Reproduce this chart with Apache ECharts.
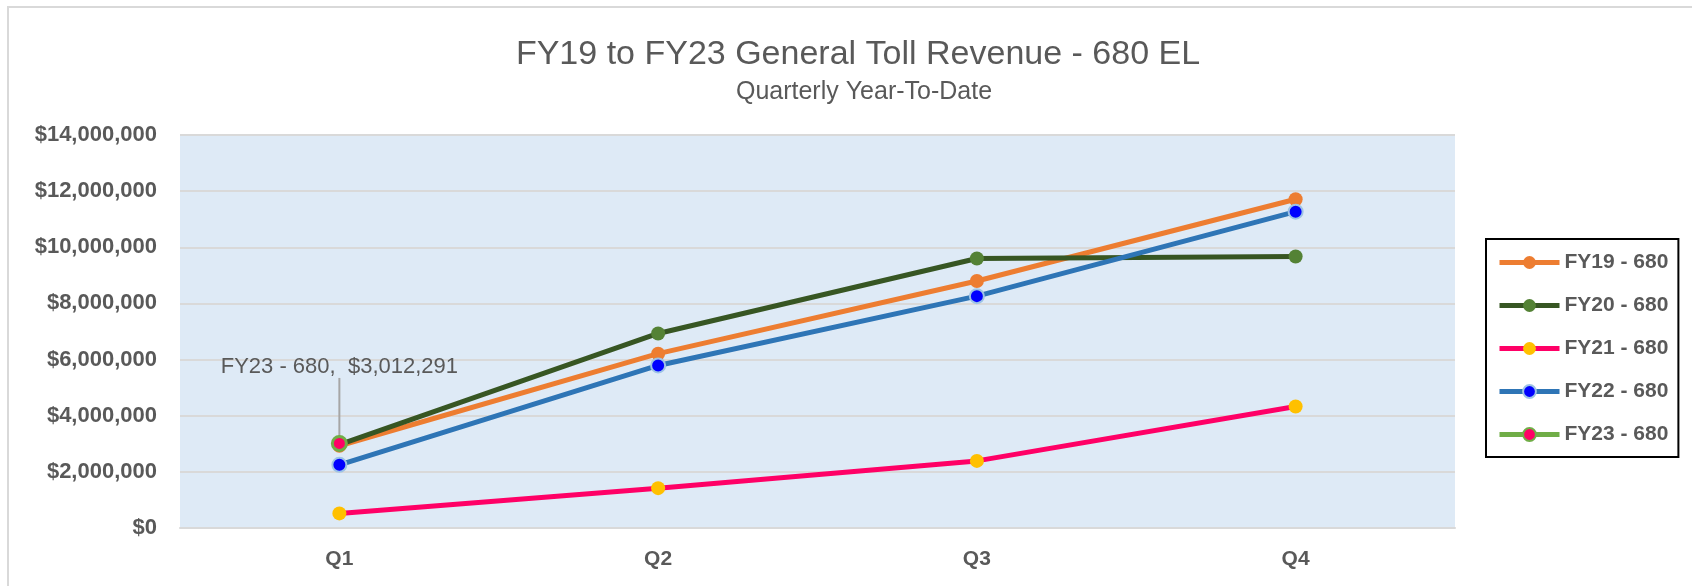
<!DOCTYPE html>
<html>
<head>
<meta charset="utf-8">
<script src="https://cdn.jsdelivr.net/npm/echarts@6/dist/echarts.min.js"></script>
<style>
  html, body { margin: 0; padding: 0; background: #fff; }
  #chart { width: 1692px; height: 586px; }
</style>
</head>
<body>
<div id="chart"></div>
<script>
// quarters and year-to-date revenue per fiscal year
const quarters = ['Q1', 'Q2', 'Q3', 'Q4'];
const fy19 = [2930000, 6210000, 8800000, 11710000];
const fy20 = [2970000, 6930000, 9600000, 9670000];
const fy21 = [520000, 1420000, 2390000, 4330000];
const fy22 = [2250000, 5790000, 8260000, 11270000];
const fy23 = [3012291, null, null, null];
const yTicks = { min: 0, max: 14000000, step: 2000000 };

const money = v => '$' + Math.round(v).toLocaleString('en-US');
const grey = '#595959';

const chart = echarts.init(document.getElementById('chart'));

function line(name, data, lineColor, dotColor, extra) {
    return Object.assign({
        name: name,
        type: 'line',
        data: data,
        symbol: 'circle',
        symbolSize: 14,
        lineStyle: { color: lineColor, width: 5 },
        itemStyle: { color: dotColor },
        color: lineColor,
        emphasis: { disabled: true }
    }, extra || {});
}

chart.setOption({
    animation: false,
    title: [
        {
            text: 'FY19 to FY23 General Toll Revenue - 680 EL',
            left: 853, top: 33, textAlign: 'center',
            textStyle: { color: grey, fontSize: 34, fontWeight: 'normal', fontFamily: 'Liberation Sans' }
        },
        {
            text: 'Quarterly Year-To-Date',
            left: 859, top: 75, textAlign: 'center',
            textStyle: { color: grey, fontSize: 25, fontWeight: 'normal', fontFamily: 'Liberation Sans' }
        }
    ],
    graphic: [{
        type: 'rect', silent: true,
        shape: { x: 8, y: 7, width: 1720, height: 620 },
        style: { fill: 'none', stroke: '#d9d9d9', lineWidth: 2 }
    }],
    legend: {
        left: 1486, top: 239,
        orient: 'vertical',
        padding: [13, 10, 12, 11],
        itemWidth: 60, itemHeight: 16, itemGap: 22,
        borderColor: '#000', borderWidth: 2,
        lineStyle: { width: 5 },
        textStyle: { color: grey, fontSize: 21, fontWeight: 'bold', fontFamily: 'Liberation Sans' },
        data: ['FY19 - 680', 'FY20 - 680', 'FY21 - 680', 'FY22 - 680', 'FY23 - 680']
    },
    grid: {
        left: 180, right: 237, top: 135, bottom: 58,
        show: true, backgroundColor: '#DEEAF6', borderWidth: 0
    },
    xAxis: {
        type: 'category',
        data: quarters,
        axisTick: { show: false },
        axisLine: { lineStyle: { color: '#d9d9d9', width: 2 } },
        axisLabel: { color: grey, fontSize: 21, fontWeight: 'bold', margin: 21, fontFamily: 'Liberation Sans' }
    },
    yAxis: {
        type: 'value',
        min: yTicks.min, max: yTicks.max, interval: yTicks.step,
        axisLine: { show: false },
        axisTick: { show: false },
        splitLine: { lineStyle: { color: '#d9d9d9', width: 2 } },
        axisLabel: { color: grey, fontSize: 22, fontWeight: 'bold', margin: 23, fontFamily: 'Liberation Sans', formatter: money }
    },
    series: [
        line('FY19 - 680', fy19, '#ED7D31', '#ED7D31'),
        line('FY20 - 680', fy20, '#375623', '#548235'),
        line('FY21 - 680', fy21, '#FF0066', '#FFC000'),
        line('FY22 - 680', fy22, '#2E75B6', '#0000FF', {
            itemStyle: { color: '#0000FF', borderColor: '#9DC3E6', borderWidth: 2 }
        }),
        line('FY23 - 680', fy23, '#70AD47', '#FF0066', {
            itemStyle: { color: '#FF0066', borderColor: '#70AD47', borderWidth: 3 },
            label: {
                show: true, position: 'top',
                color: grey, fontSize: 22, fontFamily: 'Liberation Sans',
                formatter: p => p.seriesName + ',  ' + money(p.value)
            },
            labelLine: { show: true, lineStyle: { color: '#a6a6a6', width: 2 } },
            labelLayout: { dy: -52 }
        })
    ]
});
</script>
</body>
</html>
